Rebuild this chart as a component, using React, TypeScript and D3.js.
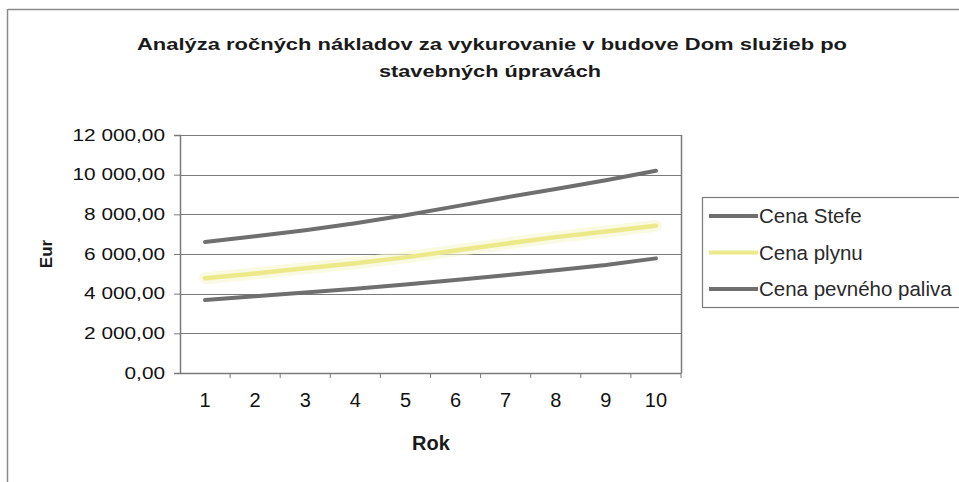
import React, { useEffect, useRef } from 'react';
import * as d3 from 'd3';

// data
const years = [1, 2, 3, 4, 5, 6, 7, 8, 9, 10];
const cenaStefe = [6600, 6900, 7200, 7550, 7950, 8400, 8850, 9280, 9720, 10200];
const cenaPlynu = [4780, 5020, 5280, 5530, 5830, 6180, 6520, 6850, 7130, 7420];
const cenaPevneho = [3680, 3870, 4060, 4250, 4460, 4690, 4930, 5180, 5450, 5780];
const yTicks = [0, 2000, 4000, 6000, 8000, 10000, 12000];
const seriesNames = ['Cena Stefe', 'Cena plynu', 'Cena pevného paliva'];
const seriesColors = ['#6f6f6f', '#ece98a', '#6f6f6f'];

const fmt = (v: number) => {
  const s = d3.format(',.2f')(v);
  return s.replace(/,/g, ' ').replace('.', ',');
};

const App = () => {
  const svgRef = useRef<SVGSVGElement | null>(null);

  useEffect(() => {
    const svg = d3.select(svgRef.current);
    svg.selectAll('*').remove();

    const width = 959;
    const height = 482;
    const plot = { left: 180, right: 681, top: 135, bottom: 373 };
    const font = 'Arial, "Liberation Sans", sans-serif';

    svg.append('rect').attr('width', width).attr('height', height).attr('fill', '#fff');

    // outer chart frame (cut off on right/bottom)
    svg.append('line')
      .attr('x1', 8).attr('x2', width).attr('y1', 9.5).attr('y2', 9.5)
      .attr('stroke', '#8a8a8a').attr('stroke-width', 1.5);
    svg.append('line')
      .attr('x1', 7.5).attr('x2', 7.5).attr('y1', 9).attr('y2', height)
      .attr('stroke', '#8a8a8a').attr('stroke-width', 1.5);

    // title
    const title = svg.append('g')
      .attr('font-family', font)
      .attr('font-weight', 'bold')
      .attr('font-size', 17)
      .attr('fill', '#1a1a1a')
      .attr('text-anchor', 'middle');
    title.append('text')
      .attr('x', 492).attr('y', 50)
      .attr('textLength', 710).attr('lengthAdjust', 'spacingAndGlyphs')
      .text('Analýza ročných nákladov za vykurovanie v budove Dom služieb  po');
    title.append('text')
      .attr('x', 490).attr('y', 77)
      .attr('textLength', 222).attr('lengthAdjust', 'spacingAndGlyphs')
      .text('stavebných úpravách');

    const x = d3.scaleBand<number>()
      .domain(years)
      .range([plot.left, plot.right]);
    const y = d3.scaleLinear()
      .domain([0, 12000])
      .range([plot.bottom, plot.top]);

    // gridlines
    svg.append('g')
      .selectAll('line')
      .data(yTicks.filter(t => t > 0))
      .enter()
      .append('line')
      .attr('x1', plot.left).attr('x2', plot.right)
      .attr('y1', d => Math.round(y(d)) + 0.5).attr('y2', d => Math.round(y(d)) + 0.5)
      .attr('stroke', '#7a7a7a').attr('stroke-width', 1.2);

    // right border of plot area
    svg.append('line')
      .attr('x1', plot.right + 0.5).attr('x2', plot.right + 0.5)
      .attr('y1', plot.top).attr('y2', plot.bottom)
      .attr('stroke', '#7a7a7a').attr('stroke-width', 1.5);

    // y axis
    const yAxis = svg.append('g')
      .attr('transform', `translate(${plot.left},0)`)
      .call(d3.axisLeft(y).tickValues(yTicks).tickSize(6).tickPadding(9).tickFormat(d => fmt(+d)));
    yAxis.select('.domain').attr('stroke', '#7a7a7a').attr('stroke-width', 1.5);
    yAxis.selectAll('.tick line').attr('stroke', '#7a7a7a');
    yAxis.selectAll<SVGTextElement, unknown>('.tick text')
      .attr('font-family', font).attr('font-size', 16).attr('fill', '#111')
      .each(function () {
        // scanned labels are wider than plain Arial
        const len = this.getComputedTextLength();
        d3.select(this).attr('textLength', len * 1.3).attr('lengthAdjust', 'spacingAndGlyphs');
      });

    // x axis
    const xAxis = svg.append('g')
      .attr('transform', `translate(0,${plot.bottom})`)
      .call(d3.axisBottom(x).tickSize(0).tickPadding(20));
    xAxis.select('.domain').attr('stroke', '#7a7a7a').attr('stroke-width', 1.5);
    xAxis.selectAll('.tick text')
      .attr('font-family', font).attr('font-size', 20).attr('fill', '#111');
    // category boundary tick marks
    svg.append('g')
      .selectAll('line')
      .data(years)
      .enter()
      .append('line')
      .attr('x1', d => (x(d) as number) + x.bandwidth())
      .attr('x2', d => (x(d) as number) + x.bandwidth())
      .attr('y1', plot.bottom).attr('y2', plot.bottom + 5)
      .attr('stroke', '#7a7a7a');

    // axis titles
    svg.append('text')
      .attr('transform', 'translate(52,254) rotate(-90)')
      .attr('text-anchor', 'middle')
      .attr('font-family', font).attr('font-weight', 'bold').attr('font-size', 17)
      .attr('fill', '#1a1a1a')
      .text('Eur');
    svg.append('text')
      .attr('x', 431).attr('y', 450)
      .attr('text-anchor', 'middle')
      .attr('font-family', font).attr('font-weight', 'bold').attr('font-size', 20)
      .attr('fill', '#1a1a1a')
      .text('Rok');

    // series lines
    const allSeries = [cenaStefe, cenaPlynu, cenaPevneho];
    const line = d3.line<number>()
      .x((_, i) => (x(years[i]) as number) + x.bandwidth() / 2)
      .y(d => y(d));

    // soft glow under the yellow line
    svg.append('path')
      .datum(cenaPlynu)
      .attr('d', line)
      .attr('fill', 'none')
      .attr('stroke', '#f7f5cf')
      .attr('stroke-width', 12)
      .attr('stroke-opacity', 0.6)
      .attr('stroke-linecap', 'round');

    allSeries.forEach((s, i) => {
      svg.append('path')
        .datum(s)
        .attr('d', line)
        .attr('fill', 'none')
        .attr('stroke', seriesColors[i])
        .attr('stroke-width', i === 1 ? 4.5 : 4)
        .attr('stroke-linecap', 'round')
        .attr('stroke-linejoin', 'round');
    });

    // legend
    const legend = svg.append('g');
    legend.append('rect')
      .attr('x', 702.5).attr('y', 197.5)
      .attr('width', 280).attr('height', 110)
      .attr('fill', '#fff')
      .attr('stroke', '#7a7a7a').attr('stroke-width', 1.2);
    const items = legend.selectAll('g.item')
      .data(seriesNames)
      .enter()
      .append('g')
      .attr('class', 'item')
      .attr('transform', (_, i) => `translate(0,${216 + i * 36.5})`);
    items.append('line')
      .attr('x1', 709).attr('x2', 758)
      .attr('y1', 0).attr('y2', 0)
      .attr('stroke', (_, i) => seriesColors[i])
      .attr('stroke-width', 4);
    items.append('text')
      .attr('x', 759).attr('y', 7)
      .attr('font-family', font).attr('font-size', 20.5)
      .attr('fill', '#2a2a2a')
      .text(d => d);
  }, []);

  return (
    <svg
      ref={svgRef}
      width={959}
      height={482}
      style={{ position: 'absolute', left: 0, top: 0, display: 'block' }}
    />
  );
};

export default App;
